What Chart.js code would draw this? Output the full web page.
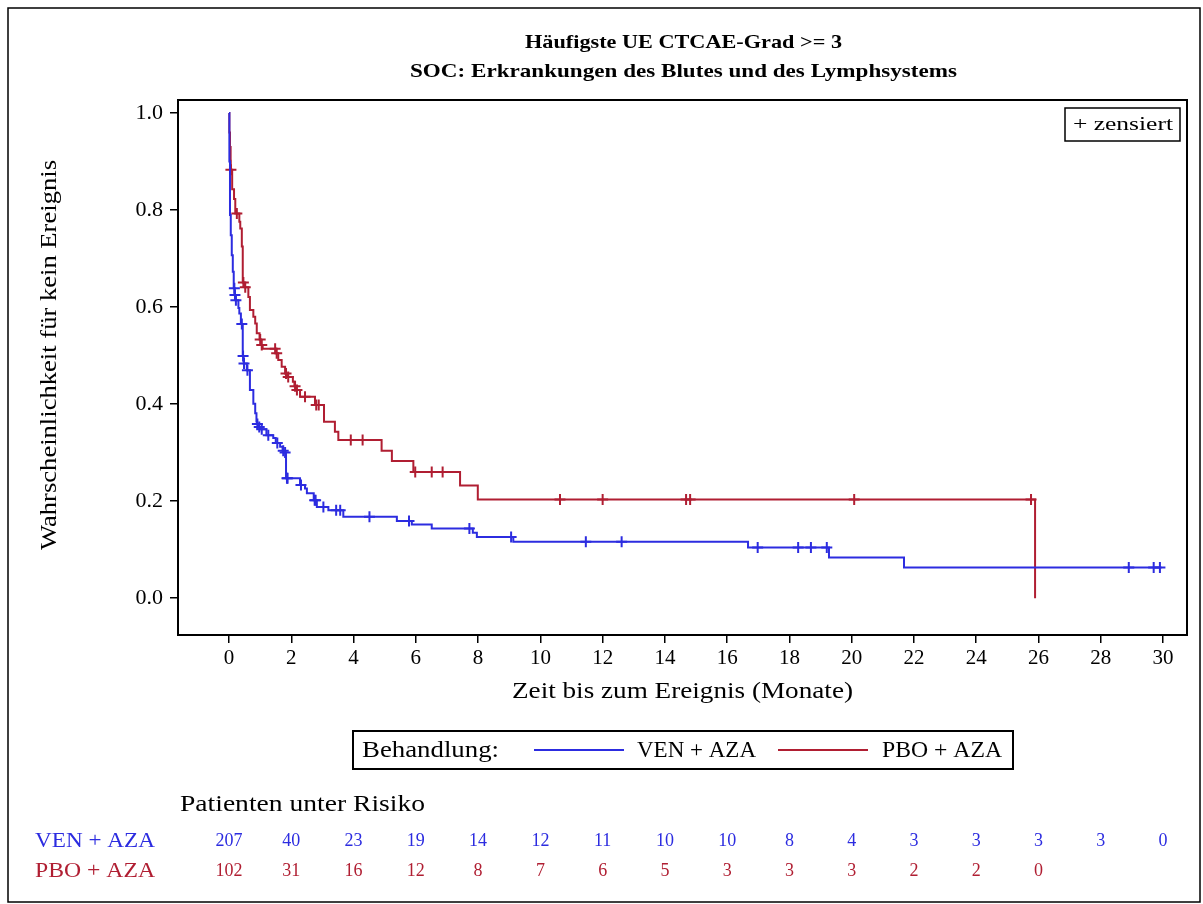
<!DOCTYPE html>
<html>
<head>
<meta charset="utf-8">
<title>Kaplan-Meier</title>
<script src="https://cdn.jsdelivr.net/npm/chart.js@4.4.0/dist/chart.umd.min.js"></script>
<style>
  body { margin: 0; background: #fff; }
  canvas { display: block; }
</style>
</head>
<body>
<canvas id="km" width="1203" height="904" style="width:1203px;height:904px"></canvas>
<script>
// --- data ---
var venTime = [0, 0.01, 0.03, 0.055, 0.087, 0.12, 0.15, 0.18, 0.21, 0.30, 0.33, 0.38, 0.44, 0.47, 0.57,
  0.67, 0.78, 0.84, 0.88, 0.90, 0.95, 1.02, 1.20, 1.42, 1.50, 1.64, 1.72, 1.78, 1.83, 2.28, 2.44, 2.50,
  2.72, 2.82, 3.19, 3.67, 5.39, 5.87, 6.51, 7.83, 7.96, 9.13, 16.67, 19.27, 21.68, 29.95];
var venSurv = [1.0, 0.90, 0.79, 0.748, 0.707, 0.673, 0.639, 0.625, 0.614, 0.598, 0.587, 0.565, 0.499, 0.484, 0.470,
  0.429, 0.401, 0.381, 0.364, 0.359, 0.353, 0.348, 0.336, 0.330, 0.320, 0.312, 0.304, 0.300, 0.247, 0.233, 0.226, 0.216,
  0.202, 0.188, 0.181, 0.168, 0.159, 0.152, 0.1436, 0.135, 0.126, 0.116, 0.1045, 0.084, 0.063, 0.063];
var venCensor = [0.17, 0.19, 0.22, 0.41, 0.45, 0.48, 0.59, 0.91, 0.97, 1.05, 1.26, 1.55, 1.74, 1.80, 1.86, 1.88,
  2.31, 2.75, 2.78, 3.03, 3.44, 3.57, 4.51, 5.78, 7.72, 9.06, 11.46, 12.61, 16.98, 18.28, 18.69, 19.2, 28.9, 29.7, 29.9];

var pboTime = [0, 0.01, 0.03, 0.05, 0.055, 0.10, 0.16, 0.20, 0.33, 0.36, 0.41, 0.44, 0.50, 0.62, 0.67, 0.78, 0.84,
  0.89, 0.98, 1.03, 1.08, 1.51, 1.58, 1.69, 1.80, 1.88, 2.05, 2.10, 2.16, 2.28, 2.76, 3.05, 3.40, 3.51, 4.90,
  5.23, 5.92, 7.42, 7.99, 25.89];
var pboSurv = [1.0, 0.96, 0.93, 0.902, 0.883, 0.843, 0.823, 0.793, 0.776, 0.762, 0.725, 0.651, 0.641, 0.621, 0.594, 0.58, 0.566,
  0.546, 0.533, 0.522, 0.514, 0.505, 0.491, 0.477, 0.463, 0.456, 0.446, 0.437, 0.429, 0.415, 0.398, 0.3635, 0.343, 0.326, 0.304,
  0.2825, 0.260, 0.232, 0.2035, 0];
var pboCensor = [0.06, 0.25, 0.46, 0.52, 1.0, 1.05, 1.48, 1.53, 1.83, 1.90, 2.12, 2.18, 2.44, 2.80, 2.88, 3.91, 4.29,
  5.98, 6.51, 6.86, 10.63, 12.0, 14.68, 14.81, 20.08, 25.76];

var xTicks = [0, 2, 4, 6, 8, 10, 12, 14, 16, 18, 20, 22, 24, 26, 28, 30];
var yTicks = [0.0, 0.2, 0.4, 0.6, 0.8, 1.0];
var venRisk = [207, 40, 23, 19, 14, 12, 11, 10, 10, 8, 4, 3, 3, 3, 3, 0];
var pboRisk = [102, 31, 16, 12, 8, 7, 6, 5, 3, 3, 3, 2, 2, 0];

var blue = '#2c2ce0';
var red = '#b01e32';
var serif = '"Liberation Serif", "Times New Roman", serif';

function pts(t, s) {
  return t.map(function (v, i) { return { x: v, y: s[i] }; });
}
// censor marks sit on the curve
function onCurve(times, t, s) {
  return times.map(function (c) {
    var y = s[0];
    for (var i = 0; i < t.length; i++) { if (t[i] <= c) y = s[i]; }
    return { x: c, y: y };
  });
}

// text drawn from x0 to x1, stretched sideways (SAS glyphs run wider than Times)
function wideText(ctx, str, x0, x1, y) {
  var w = ctx.measureText(str).width;
  var sx = (x1 - x0) / w;
  ctx.save();
  ctx.translate(x0, y);
  ctx.scale(sx, 1);
  ctx.textAlign = 'left';
  ctx.fillText(str, 0, 0);
  ctx.restore();
}

var decor = {
  id: 'decor',
  afterDraw: function (chart) {
    var ctx = chart.ctx, a = chart.chartArea, xs = chart.scales.x;
    ctx.save();
    ctx.strokeStyle = '#000';
    ctx.lineWidth = 1.5;
    ctx.strokeRect(8, 8, 1192, 894);
    ctx.lineWidth = 2;
    ctx.strokeRect(a.left, a.top, a.right - a.left, a.bottom - a.top);

    ctx.fillStyle = '#000';
    ctx.textBaseline = 'middle';
    ctx.font = 'bold 19px ' + serif;
    wideText(ctx, 'Häufigste UE CTCAE-Grad >= 3', 525, 842, 43);
    wideText(ctx, 'SOC: Erkrankungen des Blutes und des Lymphsystems', 410, 957, 72);

    // axis titles
    ctx.font = '24px ' + serif;
    wideText(ctx, 'Zeit bis zum Ereignis (Monate)', 512, 853, 692);
    ctx.save();
    ctx.translate(50, 0);
    ctx.rotate(-Math.PI / 2);
    wideText(ctx, 'Wahrscheinlichkeit für kein Ereignis', -550, -160, 0);
    ctx.restore();

    // censor key
    ctx.lineWidth = 1.5;
    ctx.strokeRect(a.right - 122, a.top + 8, 115, 33);
    ctx.font = '19px ' + serif;
    wideText(ctx, '+ zensiert', a.right - 114, a.right - 14, a.top + 25);

    // treatment legend
    ctx.lineWidth = 2;
    ctx.strokeRect(353, 731, 660, 38);
    ctx.font = '23px ' + serif;
    wideText(ctx, 'Behandlung:', 362, 499, 751);
    wideText(ctx, 'VEN + AZA', 637, 756, 751);
    wideText(ctx, 'PBO + AZA', 882, 1002, 751);
    ctx.strokeStyle = blue;
    ctx.beginPath(); ctx.moveTo(534, 750); ctx.lineTo(624, 750); ctx.stroke();
    ctx.strokeStyle = red;
    ctx.beginPath(); ctx.moveTo(778, 750); ctx.lineTo(868, 750); ctx.stroke();

    // number at risk
    ctx.fillStyle = '#000';
    ctx.font = '23px ' + serif;
    wideText(ctx, 'Patienten unter Risiko', 180, 425, 805);
    ctx.font = '22px ' + serif;
    ctx.fillStyle = blue;
    wideText(ctx, 'VEN + AZA', 35, 155, 841);
    ctx.fillStyle = red;
    wideText(ctx, 'PBO + AZA', 35, 155, 871);
    ctx.textAlign = 'center';
    ctx.font = '18px ' + serif;
    ctx.fillStyle = blue;
    venRisk.forEach(function (n, i) { ctx.fillText(String(n), xs.getPixelForValue(xTicks[i]), 841); });
    ctx.fillStyle = red;
    pboRisk.forEach(function (n, i) { ctx.fillText(String(n), xs.getPixelForValue(xTicks[i]), 871); });
    ctx.restore();
  }
};

new Chart(document.getElementById('km'), {
  type: 'scatter',
  data: {
    datasets: [
      {
        label: 'VEN + AZA',
        data: pts(venTime, venSurv),
        showLine: true,
        stepped: 'before',
        borderColor: blue,
        borderWidth: 2,
        pointRadius: 0
      },
      {
        label: 'PBO + AZA',
        data: pts(pboTime, pboSurv),
        showLine: true,
        stepped: 'before',
        borderColor: red,
        borderWidth: 2,
        pointRadius: 0
      },
      {
        label: 'VEN zensiert',
        data: onCurve(venCensor, venTime, venSurv),
        pointStyle: 'cross',
        pointRadius: 5.5,
        borderColor: blue,
        borderWidth: 2
      },
      {
        label: 'PBO zensiert',
        data: onCurve(pboCensor, pboTime, pboSurv),
        pointStyle: 'cross',
        pointRadius: 5.5,
        borderColor: red,
        borderWidth: 2
      }
    ]
  },
  options: {
    responsive: false,
    animation: false,
    layout: { padding: { left: 118, top: 100, right: 16, bottom: 239 } },
    plugins: { legend: { display: false }, tooltip: { enabled: false } },
    scales: {
      x: {
        type: 'linear',
        min: -1.64,
        max: 30.77,
        afterBuildTicks: function (s) { s.ticks = xTicks.map(function (v) { return { value: v }; }); },
        afterFit: function (s) { s.height = 30; },
        grid: { drawOnChartArea: false, drawTicks: true, tickLength: 8, color: '#000', lineWidth: 1.5 },
        border: { display: true, color: '#000', width: 2 },
        ticks: { color: '#000', font: { family: serif, size: 21 }, padding: 3, maxRotation: 0, autoSkip: false }
      },
      y: {
        type: 'linear',
        min: -0.076,
        max: 1.027,
        afterBuildTicks: function (s) { s.ticks = yTicks.map(function (v) { return { value: v }; }); },
        afterFit: function (s) { s.width = 60; },
        grid: { drawOnChartArea: false, drawTicks: true, tickLength: 8, color: '#000', lineWidth: 1.5 },
        border: { display: true, color: '#000', width: 2 },
        ticks: {
          color: '#000', font: { family: serif, size: 22 }, padding: 7,
          callback: function (v) { return v.toFixed(1); }
        }
      }
    }
  },
  plugins: [decor]
});
</script>
</body>
</html>
